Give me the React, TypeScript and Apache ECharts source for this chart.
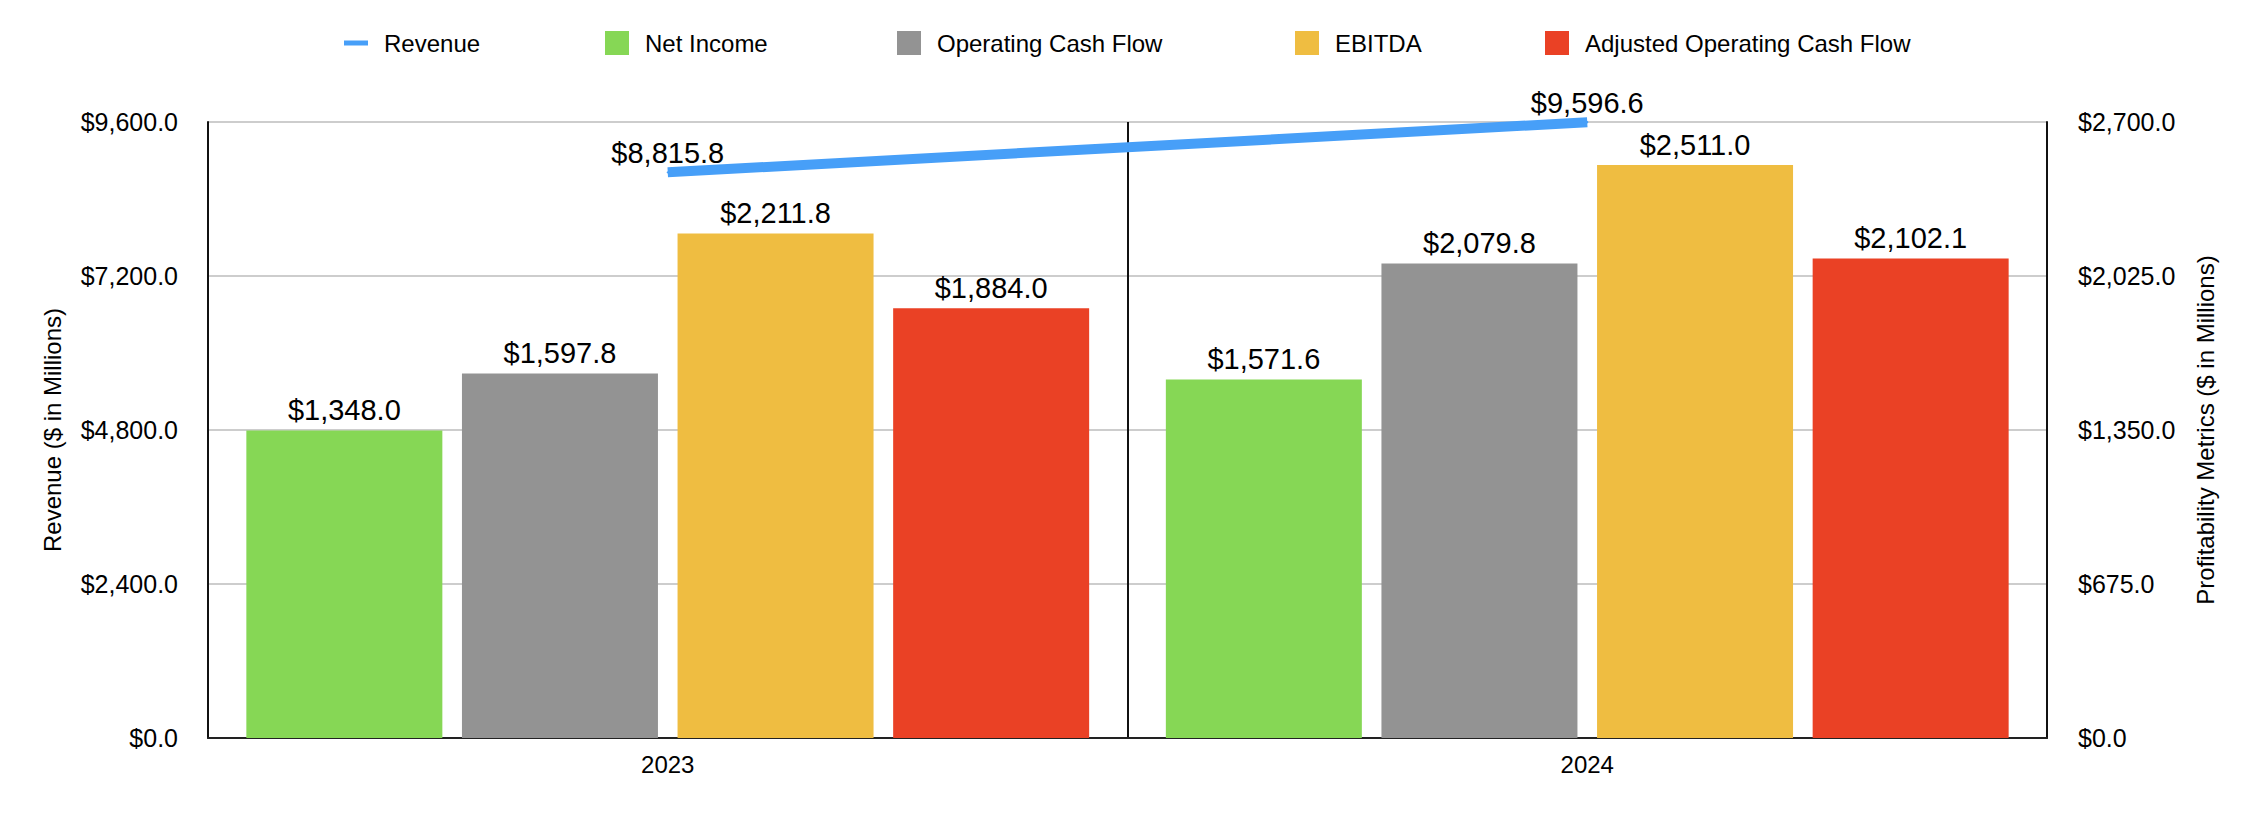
import React, { useEffect, useRef } from "react";
import * as echarts from "echarts";

const categories = ["2023", "2024"];
const revenue = [8815.8, 9596.6];
const netIncome = [1348.0, 1571.6];
const operatingCashFlow = [1597.8, 2079.8];
const ebitda = [2211.8, 2511.0];
const adjustedOperatingCashFlow = [1884.0, 2102.1];

const legendNames = ["Revenue", "Net Income", "Operating Cash Flow", "EBITDA", "Adjusted Operating Cash Flow"];
const legendLefts = [344, 605, 897, 1295, 1545];

const FONT = "'Liberation Sans', Arial, Helvetica, sans-serif";

const fmt = (v: number) =>
  "$" + v.toLocaleString("en-US", { minimumFractionDigits: 1, maximumFractionDigits: 1 });

export default function App() {
  const ref = useRef<HTMLDivElement>(null);

  useEffect(() => {
    document.body.style.margin = "0";
    if (!ref.current) return;
    const chart = echarts.init(ref.current, undefined, { renderer: "svg" });

    const barLabel = {
      show: true,
      position: "top" as const,
      distance: 6,
      fontSize: 29,
      color: "#000",
      fontFamily: FONT,
      formatter: (p: any) => fmt(p.value),
    };

    const barSeries = (name: string, data: number[], color: string) => ({
      name,
      type: "bar",
      yAxisIndex: 1,
      data,
      barWidth: 196,
      barGap: "10%",
      itemStyle: { color },
      label: barLabel,
    });

    const legends = legendNames.map((name, i) => ({
      top: 31,
      left: legendLefts[i],
      itemWidth: 24,
      itemHeight: 24,
      padding: 0,
      textStyle: { fontSize: 24, color: "#000", fontFamily: FONT, padding: [0, 0, 0, 11] },
      data: [{ name, icon: i === 0 ? "path://M0,0H24V5H0Z" : "rect" }],
    }));

    chart.setOption({
      animation: false,
      backgroundColor: "#fff",
      textStyle: { fontFamily: FONT },
      legend: legends,
      grid: { left: 208, right: 209, top: 122, bottom: 100, containLabel: false },
      xAxis: {
        type: "category",
        data: categories,
        axisTick: { show: false },
        axisLine: { show: true, lineStyle: { color: "#222", width: 2 } },
        splitLine: { show: true, lineStyle: { color: "#111", width: 2 } },
        axisLabel: { fontSize: 24, color: "#000", margin: 14, fontFamily: FONT },
      },
      yAxis: [
        {
          type: "value",
          min: 0,
          max: 9600,
          interval: 2400,
          name: "Revenue ($ in Millions)",
          nameLocation: "middle",
          nameGap: 144,
          nameTextStyle: { fontSize: 24, color: "#000", fontFamily: FONT },
          axisLine: { show: true, lineStyle: { color: "#111", width: 2 } },
          axisTick: { show: false },
          axisLabel: { fontSize: 25, color: "#000", margin: 30, formatter: (v: number) => fmt(v), fontFamily: FONT },
          splitLine: { show: true, lineStyle: { color: "#bdbdbd", width: 1.5 } },
        },
        {
          type: "value",
          min: 0,
          max: 2700,
          interval: 675,
          position: "right",
          name: "Profitability Metrics ($ in Millions)",
          nameLocation: "middle",
          nameGap: 146,
          nameTextStyle: { fontSize: 24, color: "#000", fontFamily: FONT },
          axisLine: { show: true, lineStyle: { color: "#111", width: 2 } },
          axisTick: { show: false },
          axisLabel: { fontSize: 25, color: "#000", margin: 31, formatter: (v: number) => fmt(v), fontFamily: FONT },
          splitLine: { show: false },
        },
      ],
      series: [
        {
          name: "Revenue",
          type: "line",
          yAxisIndex: 0,
          data: revenue,
          symbol: "circle",
          symbolSize: 2,
          itemStyle: { color: "#479ff8" },
          lineStyle: { color: "#479ff8", width: 10 },
          z: 5,
          label: {
            show: true,
            position: "top",
            distance: 4,
            fontSize: 29,
            color: "#000",
            fontFamily: FONT,
            formatter: (p: any) => fmt(p.value),
          },
        },
        barSeries("Net Income", netIncome, "#86d755"),
        barSeries("Operating Cash Flow", operatingCashFlow, "#939393"),
        barSeries("EBITDA", ebitda, "#efbd41"),
        barSeries("Adjusted Operating Cash Flow", adjustedOperatingCashFlow, "#ea4125"),
      ],
    });

    return () => chart.dispose();
  }, []);

  return (
    <div
      ref={ref}
      style={{ position: "absolute", left: 0, top: 0, width: 2256, height: 838, background: "#fff" }}
    />
  );
}
